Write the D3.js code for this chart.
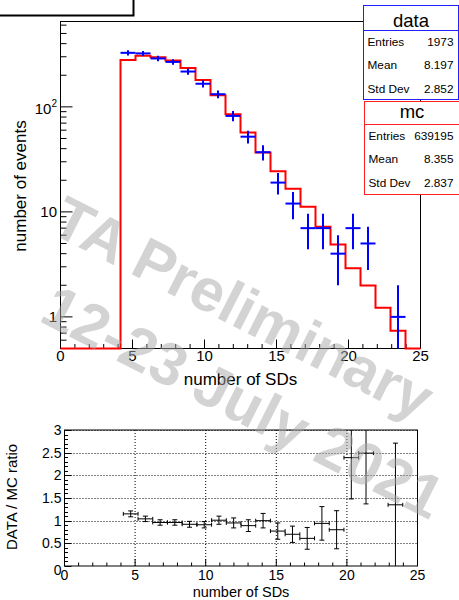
<!DOCTYPE html>
<html><head><meta charset="utf-8">
<script src="https://cdn.jsdelivr.net/npm/d3@7"></script>
<style>body{margin:0;background:#fff}svg{display:block}text{font-family:"Liberation Sans",Arial,Helvetica,sans-serif}</style>
</head><body>
<script>
// ---- data ----
const nBins = 24, xMin = 0, xMax = 25;
const binEdges = d3.range(nBins + 1).map(i => i * (xMax - xMin) / nBins);
const mcCounts = [0,0,0,0,280,306,297,277,234,180,129,85,57,36.8,24.4,16.6,11.2,7.2,4.9,2.91,1.99,1.22,0.736,0];
const dataCounts = [0,0,0,0,327,323,289,268,217,166,132,82,52,37,19,12,7,7,4,7,5,0,1,0];
const dataErr = [0,0,0,0,18.1,18.0,17.0,16.4,14.7,12.9,11.5,9.1,7.2,6.1,4.4,3.5,2.6,2.6,2.0,2.6,2.2,0,1,0];
const ratio = [null,null,null,null,1.15,1.04,0.96,0.96,0.92,0.91,1.01,0.95,0.89,1.0,0.77,0.70,0.61,0.94,0.80,2.39,2.49,null,1.35,null];
const ratioErr = [null,null,null,null,0.065,0.06,0.06,0.06,0.065,0.07,0.09,0.11,0.13,0.16,0.18,0.18,0.24,0.37,0.42,0.91,1.12,null,1.36,null];
const xTicks = [0,5,10,15,20,25];
const ratioTicks = [0,0.5,1,1.5,2,2.5,3];
const ratioTickLabels = ["0","0.5","1","1.5","2","2.5","3"];
const statsData = {title:"data", rows:[["Entries","1973"],["Mean","8.197"],["Std Dev","2.852"]]};
const statsMC = {title:"mc", rows:[["Entries","639195"],["Mean","8.355"],["Std Dev","2.837"]]};
const watermark = ["TA Preliminary", "12-23 July 2021"];

const W = 459, H = 600;
const svg = d3.select("body").append("svg").attr("width", W).attr("height", H);

// ---- top plot ----
const x = d3.scaleLinear([xMin, xMax], [60.5, 420.5]);
const yMin = 0.5, yMax = 650;
const y = d3.scaleLog([yMin, yMax], [348.5, 21.5]);
const topG = svg.append("g");

topG.append("rect").attr("x", x(0)).attr("y", y(yMax)).attr("width", x(25)-x(0)).attr("height", y(yMin)-y(yMax))
  .attr("fill","none").attr("stroke","#000").attr("stroke-width",1);

d3.range(0, 26, 1).forEach(v => {
  const maj = v % 5 === 0;
  topG.append("line").attr("x1", x(v)).attr("x2", x(v)).attr("y1", y(yMin)).attr("y2", y(yMin) - (maj ? 9 : 4.5))
    .attr("stroke","#000");
});
topG.selectAll("text.xl").data(xTicks).join("text").attr("class","xl")
  .attr("x", d => x(d)).attr("y", 361).attr("text-anchor","middle").attr("font-size",15).text(d => d);
topG.append("text").attr("x", (x(0)+x(25))/2).attr("y", 385).attr("text-anchor","middle").attr("font-size",17).text("number of SDs");

const yTickVals = [];
[0.1,1,10,100].forEach(dec => d3.range(1,10).forEach(m => { const v = dec*m; if (v >= yMin - 1e-9 && v <= yMax) yTickVals.push(v); }));
yTickVals.forEach(v => {
  const maj = Math.abs(Math.log10(v) - Math.round(Math.log10(v))) < 1e-9;
  topG.append("line").attr("x1", x(0)).attr("x2", x(0) + (maj ? 12 : 6)).attr("y1", y(v)).attr("y2", y(v)).attr("stroke","#000");
});
topG.append("text").attr("x", 57).attr("y", y(1) + 5).attr("text-anchor","end").attr("font-size",15).text("1");
topG.append("text").attr("x", 57).attr("y", y(10) + 5).attr("text-anchor","end").attr("font-size",15).text("10");
const t100 = topG.append("text").attr("x", 57).attr("y", y(100) + 7).attr("text-anchor","end").attr("font-size",15);
t100.append("tspan").text("10");
t100.append("tspan").attr("font-size",10).attr("dy",-7).text("2");
topG.append("text").attr("transform", `translate(26,186) rotate(-90)`).attr("text-anchor","middle").attr("font-size",17).text("number of events");

const cl = v => Math.max(v, yMin);
const histPts = mcCounts.map((v,i) => [binEdges[i], cl(v)]);
histPts.push([binEdges[nBins], cl(mcCounts[nBins-1])]);
topG.append("path").attr("d", d3.line().x(d => x(d[0])).y(d => y(d[1])).curve(d3.curveStepAfter)(histPts))
  .attr("fill","none").attr("stroke","#ff0000").attr("stroke-width",2);

dataCounts.forEach((v,i) => {
  if (v <= 0) return;
  const cx = (binEdges[i] + binEdges[i+1]) / 2;
  topG.append("line").attr("x1", x(binEdges[i])).attr("x2", x(binEdges[i+1])).attr("y1", y(v)).attr("y2", y(v))
    .attr("stroke","#0000ff").attr("stroke-width",2);
  topG.append("line").attr("x1", x(cx)).attr("x2", x(cx)).attr("y1", y(cl(v - dataErr[i]))).attr("y2", y(v + dataErr[i]))
    .attr("stroke","#0000ff").attr("stroke-width",2);
});

function statBox(s, color, x0, y0, x1, ySep, y1, titleBase, rowBases) {
  const g = svg.append("g");
  g.append("rect").attr("x", x0).attr("y", y0).attr("width", x1-x0).attr("height", y1-y0)
    .attr("fill","#fff").attr("stroke", color).attr("stroke-width",1);
  g.append("line").attr("x1", x0).attr("x2", x1).attr("y1", ySep).attr("y2", ySep).attr("stroke", color);
  g.append("text").attr("x", (x0+x1)/2).attr("y", titleBase).attr("text-anchor","middle").attr("font-size",18.5).text(s.title);
  s.rows.forEach((r,k) => {
    g.append("text").attr("x", x0+4).attr("y", rowBases[k]).attr("font-size",11.8).text(r[0]);
    g.append("text").attr("x", 453.5).attr("y", rowBases[k]).attr("text-anchor","end").attr("font-size",11.8).text(r[1]);
  });
}
statBox(statsData, "#2020ff", 363.5, 5.5, 458.5, 30.5, 99.5, 26.5, [46, 69.3, 92.5]);
statBox(statsMC, "#ff2020", 364.5, 101.5, 459.5, 124.5, 194.5, 117.7, [140, 163.3, 186.7]);

svg.append("rect").attr("x",-5).attr("y",-20).attr("width",138.5).attr("height",35.5)
  .attr("fill","#fff").attr("stroke","#000").attr("stroke-width",2);

// ---- ratio plot ----
const xr = d3.scaleLinear([xMin, xMax], [64.5, 417.5]);
const yr = d3.scaleLinear([0, 3], [566, 430]);
const bot = svg.append("g");
[5,10,15,20].forEach(v => bot.append("line").attr("x1", xr(v)).attr("x2", xr(v)).attr("y1", yr(0)).attr("y2", yr(3))
  .attr("stroke","#000").attr("stroke-dasharray","1,2"));
[0.5,1,1.5,2,2.5,3].forEach(v => bot.append("line").attr("x1", xr(0)).attr("x2", xr(25)).attr("y1", Math.round(yr(v))+0.5).attr("y2", Math.round(yr(v))+0.5)
  .attr("stroke","#000").attr("stroke-dasharray","1,2"));
bot.append("rect").attr("x", xr(0)).attr("y", yr(3)).attr("width", xr(25)-xr(0)).attr("height", yr(0)-yr(3))
  .attr("fill","none").attr("stroke","#000");
d3.range(0, 26, 1).forEach(v => {
  const maj = v % 5 === 0;
  bot.append("line").attr("x1", xr(v)).attr("x2", xr(v)).attr("y1", yr(0)).attr("y2", yr(0) - (maj ? 7 : 3.5)).attr("stroke","#000");
});
d3.range(0, 31, 1).forEach(k => {
  const v = k / 10, maj = k % 5 === 0;
  const yy = Math.round(yr(v)) + 0.5;
  bot.append("line").attr("x1", xr(0)).attr("x2", xr(0) + (maj ? 7 : 3.5)).attr("y1", yy).attr("y2", yy).attr("stroke","#000");
});
bot.selectAll("text.xl").data(xTicks).join("text").attr("class","xl")
  .attr("x", d => xr(d)).attr("y", 580).attr("text-anchor","middle").attr("font-size",14).text(d => d);
bot.selectAll("text.yl").data(ratioTicks).join("text").attr("class","yl")
  .attr("x", 61.5).attr("y", (d,i) => yr(d) + 5 + (d === 0 ? 4 : 0)).attr("text-anchor","end").attr("font-size",14)
  .text((d,i) => ratioTickLabels[i]);
bot.append("text").attr("x", (xr(0)+xr(25))/2).attr("y", 597).attr("text-anchor","middle").attr("font-size",14.5).text("number of SDs");
bot.append("text").attr("transform", `translate(17,497) rotate(-90)`).attr("text-anchor","middle").attr("font-size",15).text("DATA / MC ratio");

ratio.forEach((r,i) => {
  if (r === null) return;
  const cx = (binEdges[i] + binEdges[i+1]) / 2;
  const e = ratioErr[i];
  const lo = Math.max(0, r - e), hi = Math.min(3, r + e);
  const x0 = xr(binEdges[i]), x1 = xr(binEdges[i+1]), yy = yr(r);
  bot.append("line").attr("x1", x0).attr("x2", x1).attr("y1", yy).attr("y2", yy).attr("stroke","#000");
  bot.append("line").attr("x1", x0).attr("x2", x0).attr("y1", yy-2).attr("y2", yy+2).attr("stroke","#000");
  bot.append("line").attr("x1", x1).attr("x2", x1).attr("y1", yy-2).attr("y2", yy+2).attr("stroke","#000");
  bot.append("line").attr("x1", xr(cx)).attr("x2", xr(cx)).attr("y1", yr(lo)).attr("y2", yr(hi)).attr("stroke","#000");
  if (r - e > 0) bot.append("line").attr("x1", xr(cx)-2.5).attr("x2", xr(cx)+2.5).attr("y1", yr(lo)).attr("y2", yr(lo)).attr("stroke","#000");
  if (r + e < 3) bot.append("line").attr("x1", xr(cx)-2.5).attr("x2", xr(cx)+2.5).attr("y1", yr(hi)).attr("y2", yr(hi)).attr("stroke","#000");
});

// ---- watermark ----
const wm = svg.append("g").attr("fill","#a8a8a8").attr("opacity",0.5).attr("font-weight","bold").attr("font-size",60);
wm.append("text").attr("transform","translate(243,308) rotate(27)").attr("text-anchor","middle").attr("dominant-baseline","central").text(watermark[0]);
wm.append("text").attr("transform","translate(243,402) rotate(27)").attr("text-anchor","middle").attr("dominant-baseline","central").text(watermark[1]);
</script>
</body></html>
